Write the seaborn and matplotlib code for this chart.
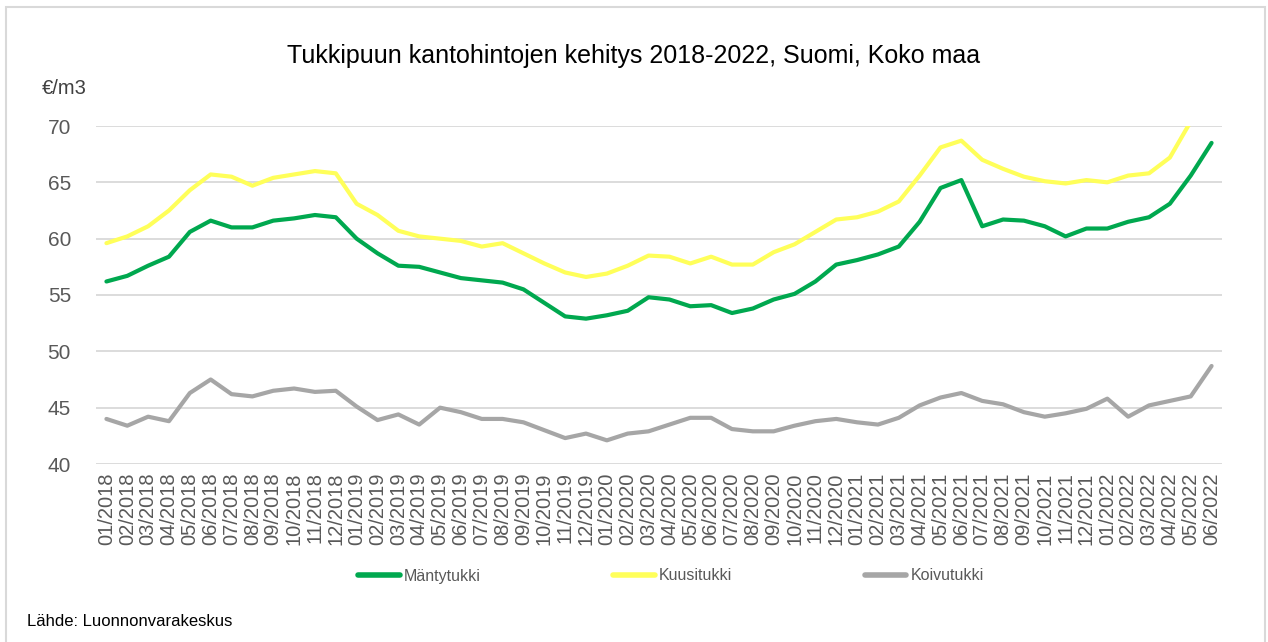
import pandas as pd
import numpy as np
import seaborn as sns
import matplotlib.pyplot as plt
from matplotlib.patches import Rectangle

# kuukaudet 01/2018 - 06/2022
months = [f"{m:02d}/{y}" for y in range(2018, 2023) for m in range(1, 13)][:54]

mantytukki = [56.2, 56.7, 57.6, 58.4, 60.6, 61.6, 61.0, 61.0, 61.6, 61.8, 62.1, 61.9,
              60.0, 58.7, 57.6, 57.5, 57.0, 56.5, 56.3, 56.1, 55.5, 54.3, 53.1, 52.9,
              53.2, 53.6, 54.8, 54.6, 54.0, 54.1, 53.4, 53.8, 54.6, 55.1, 56.2, 57.7,
              58.1, 58.6, 59.3, 61.5, 64.5, 65.2, 61.1, 61.7, 61.6, 61.1, 60.2, 60.9,
              60.9, 61.5, 61.9, 63.1, 65.6, 68.5]
kuusitukki = [59.6, 60.2, 61.1, 62.5, 64.3, 65.7, 65.5, 64.7, 65.4, 65.7, 66.0, 65.8,
              63.1, 62.1, 60.7, 60.2, 60.0, 59.8, 59.3, 59.6, 58.7, 57.8, 57.0, 56.6,
              56.9, 57.6, 58.5, 58.4, 57.8, 58.4, 57.7, 57.7, 58.8, 59.5, 60.6, 61.7,
              61.9, 62.4, 63.3, 65.6, 68.1, 68.7, 67.0, 66.2, 65.5, 65.1, 64.9, 65.2,
              65.0, 65.6, 65.8, 67.2, 70.4, 73.5]
koivutukki = [44.0, 43.4, 44.2, 43.8, 46.3, 47.5, 46.2, 46.0, 46.5, 46.7, 46.4, 46.5,
              45.1, 43.9, 44.4, 43.5, 45.0, 44.6, 44.0, 44.0, 43.7, 43.0, 42.3, 42.7,
              42.1, 42.7, 42.9, 43.5, 44.1, 44.1, 43.1, 42.9, 42.9, 43.4, 43.8, 44.0,
              43.7, 43.5, 44.1, 45.2, 45.9, 46.3, 45.6, 45.3, 44.6, 44.2, 44.5, 44.9,
              45.8, 44.2, 45.2, 45.6, 46.0, 48.7]

series_names = ["Mäntytukki", "Kuusitukki", "Koivutukki"]
colors = {"Mäntytukki": "#00A84F", "Kuusitukki": "#FFFF5A", "Koivutukki": "#A6A6A6"}

df = pd.DataFrame({
    "kk": list(range(len(months))) * 3,
    "hinta": mantytukki + kuusitukki + koivutukki,
    "laji": [n for n in series_names for _ in months],
})

sns.set_theme(style="white")
plt.rcParams["font.family"] = ["Liberation Sans", "DejaVu Sans"]

fig = plt.figure(figsize=(12.68, 6.42), dpi=100)
ax = fig.add_axes([96 / 1268, 1 - 464 / 642, (1222 - 96) / 1268, (464 - 126) / 642])

sns.lineplot(data=df, x="kk", y="hinta", hue="laji", hue_order=series_names,
             palette=colors, linewidth=3.0, ax=ax, legend=False)

ax.set_xlim(-0.5, len(months) - 0.5)
ax.set_ylim(40, 70)
ax.set_yticks(range(40, 71, 5))
ax.set_xticks(range(len(months)))
ax.set_xticklabels(months, rotation=90, fontsize=14.5, color="#595959")
ax.tick_params(axis="y", labelsize=15, labelcolor="#595959", length=0, pad=18)
ax.tick_params(axis="x", length=0, pad=6)
ax.set_xlabel("")
ax.set_ylabel("")
ax.grid(axis="y", color="#D9D9D9", linewidth=1.3)
ax.set_axisbelow(True)
for s in ax.spines.values():
    s.set_visible(False)

handles = [plt.Line2D([], [], color=colors[n], lw=4) for n in series_names]
fig.legend(handles, series_names, loc="center", bbox_to_anchor=(671 / 1268, 1 - 576 / 642),
           ncol=3, frameon=False, fontsize=11.5, handlelength=2.6, handletextpad=0.25,
           columnspacing=8.3, labelcolor="#595959")

fig.text(0.5, 1 - 56 / 642, "Tukkipuun kantohintojen kehitys 2018-2022, Suomi, Koko maa",
         ha="center", va="center", fontsize=18, color="black")
fig.text(42 / 1268, 1 - 88 / 642, "€/m3", ha="left", va="center", fontsize=14.5, color="#404040")
fig.text(27 / 1268, 1 - 621 / 642, "Lähde: Luonnonvarakeskus", ha="left", va="center",
         fontsize=12, color="black")

fig.patches.append(Rectangle((6 / 1268, -0.02), (1265 - 6) / 1268, 1 - 7 / 642 + 0.02,
                             transform=fig.transFigure, fill=False, edgecolor="#D9D9D9",
                             linewidth=1.5))

fig.savefig("out.png", dpi=100)
